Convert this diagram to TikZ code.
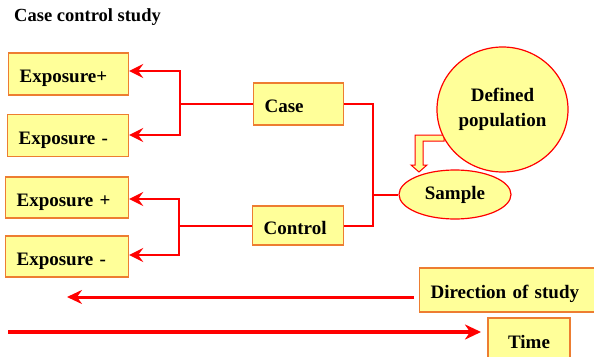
\documentclass[tikz,border=0pt]{standalone}
\usepackage{fontspec}
\setmainfont{LiberationSerif}[Extension=.ttf, UprightFont=*-Regular, BoldFont=*-Bold, ItalicFont=*-Italic, BoldItalicFont=*-BoldItalic]
\usetikzlibrary{arrows.meta,shapes.geometric}
\definecolor{boxfill}{RGB}{255,255,153}
\definecolor{boxline}{RGB}{237,125,49}
\definecolor{redline}{RGB}{255,0,0}
\begin{document}
\begin{tikzpicture}[x=1pt,y=-1pt,
  font=\fontsize{19}{23}\selectfont\bfseries,
  box/.style={draw=boxline, fill=boxfill, line width=1.2pt, rectangle,
    inner xsep=11pt, inner ysep=0pt, align=left, anchor=west,
    text height=17pt, text depth=0pt},
  conn/.style={draw=redline, line width=2pt},
  arr/.style={draw=redline, line width=2.8pt, line join=miter,
    {Stealth[length=14pt,width=14pt,inset=5pt]}-{Stealth[length=14pt,width=14pt,inset=5pt]}},
  roundshape/.style={draw=redline, fill=boxfill, line width=1.2pt}
]
\useasboundingbox (0,0) rectangle (594,356);

\node[anchor=west, inner sep=0pt, font=\fontsize{18.5}{22}\selectfont\bfseries] (title) at (14,17) {Case control study};

\node[box, minimum height=42pt, text width=98pt] (e1p) at (8,74) {Exposure+};
\node[box, minimum height=42pt, text width=99pt] (e1m) at (7,135.5) {Exposure -};
\node[box, minimum height=41pt, text width=101pt] (e2p) at (5,197.5) {Exposure +};
\node[box, minimum height=41pt, text width=101pt] (e2m) at (5,256.5) {Exposure -};
\node[box, minimum height=42pt, text width=68pt] (case) at (253,104) {Case};
\node[box, minimum height=39pt, text width=69pt, text height=18pt] (control) at (252,225.5) {Control};
\node[box, minimum height=44pt, text width=156pt] (dir) at (419,290) {Direction of study};
\node[box, minimum height=44pt, minimum width=82pt, inner xsep=0pt, align=center, anchor=center] (time) at (529,340) {Time};

% hollow block arrow from population to sample
\draw[draw=redline, fill=boxfill, line width=1pt, line join=miter]
  (444,135) -- (415,135) -- (415,165) -- (411,165) -- (419,172) -- (427,165)
  -- (423,165) -- (423,141) -- (444,141) -- cycle;

\node[roundshape, ellipse, minimum width=131pt, minimum height=125pt, inner sep=0pt,
  align=center, font=\fontsize{19}{25}\selectfont\bfseries] (pop) at (502.5,109.5) {Defined\\population};
\node[roundshape, ellipse, minimum width=112pt, minimum height=49pt, inner sep=0pt] (sample) at (455,194.5) {Sample};

% brackets
\coordinate (j1t) at (180,71);
\coordinate (j1b) at (180,135);
\coordinate (j2t) at (179,199);
\coordinate (j2b) at (179,255);
\coordinate (rx) at (373,0);

\draw[arr] (e1p.east |- j1t) -- (j1t) -- (j1b) -- (e1m.east |- j1b);
\draw[conn] (case.west) -- (case.west -| j1t);
\draw[arr] (e2p.east |- j2t) -- (j2t) -- (j2b) -- (e2m.east |- j2b);
\draw[conn] (control.west) -- (control.west -| j2t);

\draw[conn, line join=miter] (case.east) -- (case.east -| rx) -- (control.east -| rx) -- (control.east);
\draw[conn] (sample.west -| rx) -- (sample.west);

% direction and time arrows
\coordinate (dtail) at (414,297);
\coordinate (dtip) at (67,297);
\coordinate (ttail) at (8,332);
\coordinate (ttip) at (481,332);
\draw[draw=redline, line width=3pt, -{Stealth[length=15pt,width=14pt,inset=5pt]}] (dtail) -- (dtip);
\draw[draw=redline, line width=3.8pt, -{Stealth[length=16pt,width=15pt,inset=5pt]}] (ttail) -- (ttip);
\end{tikzpicture}
\end{document}
